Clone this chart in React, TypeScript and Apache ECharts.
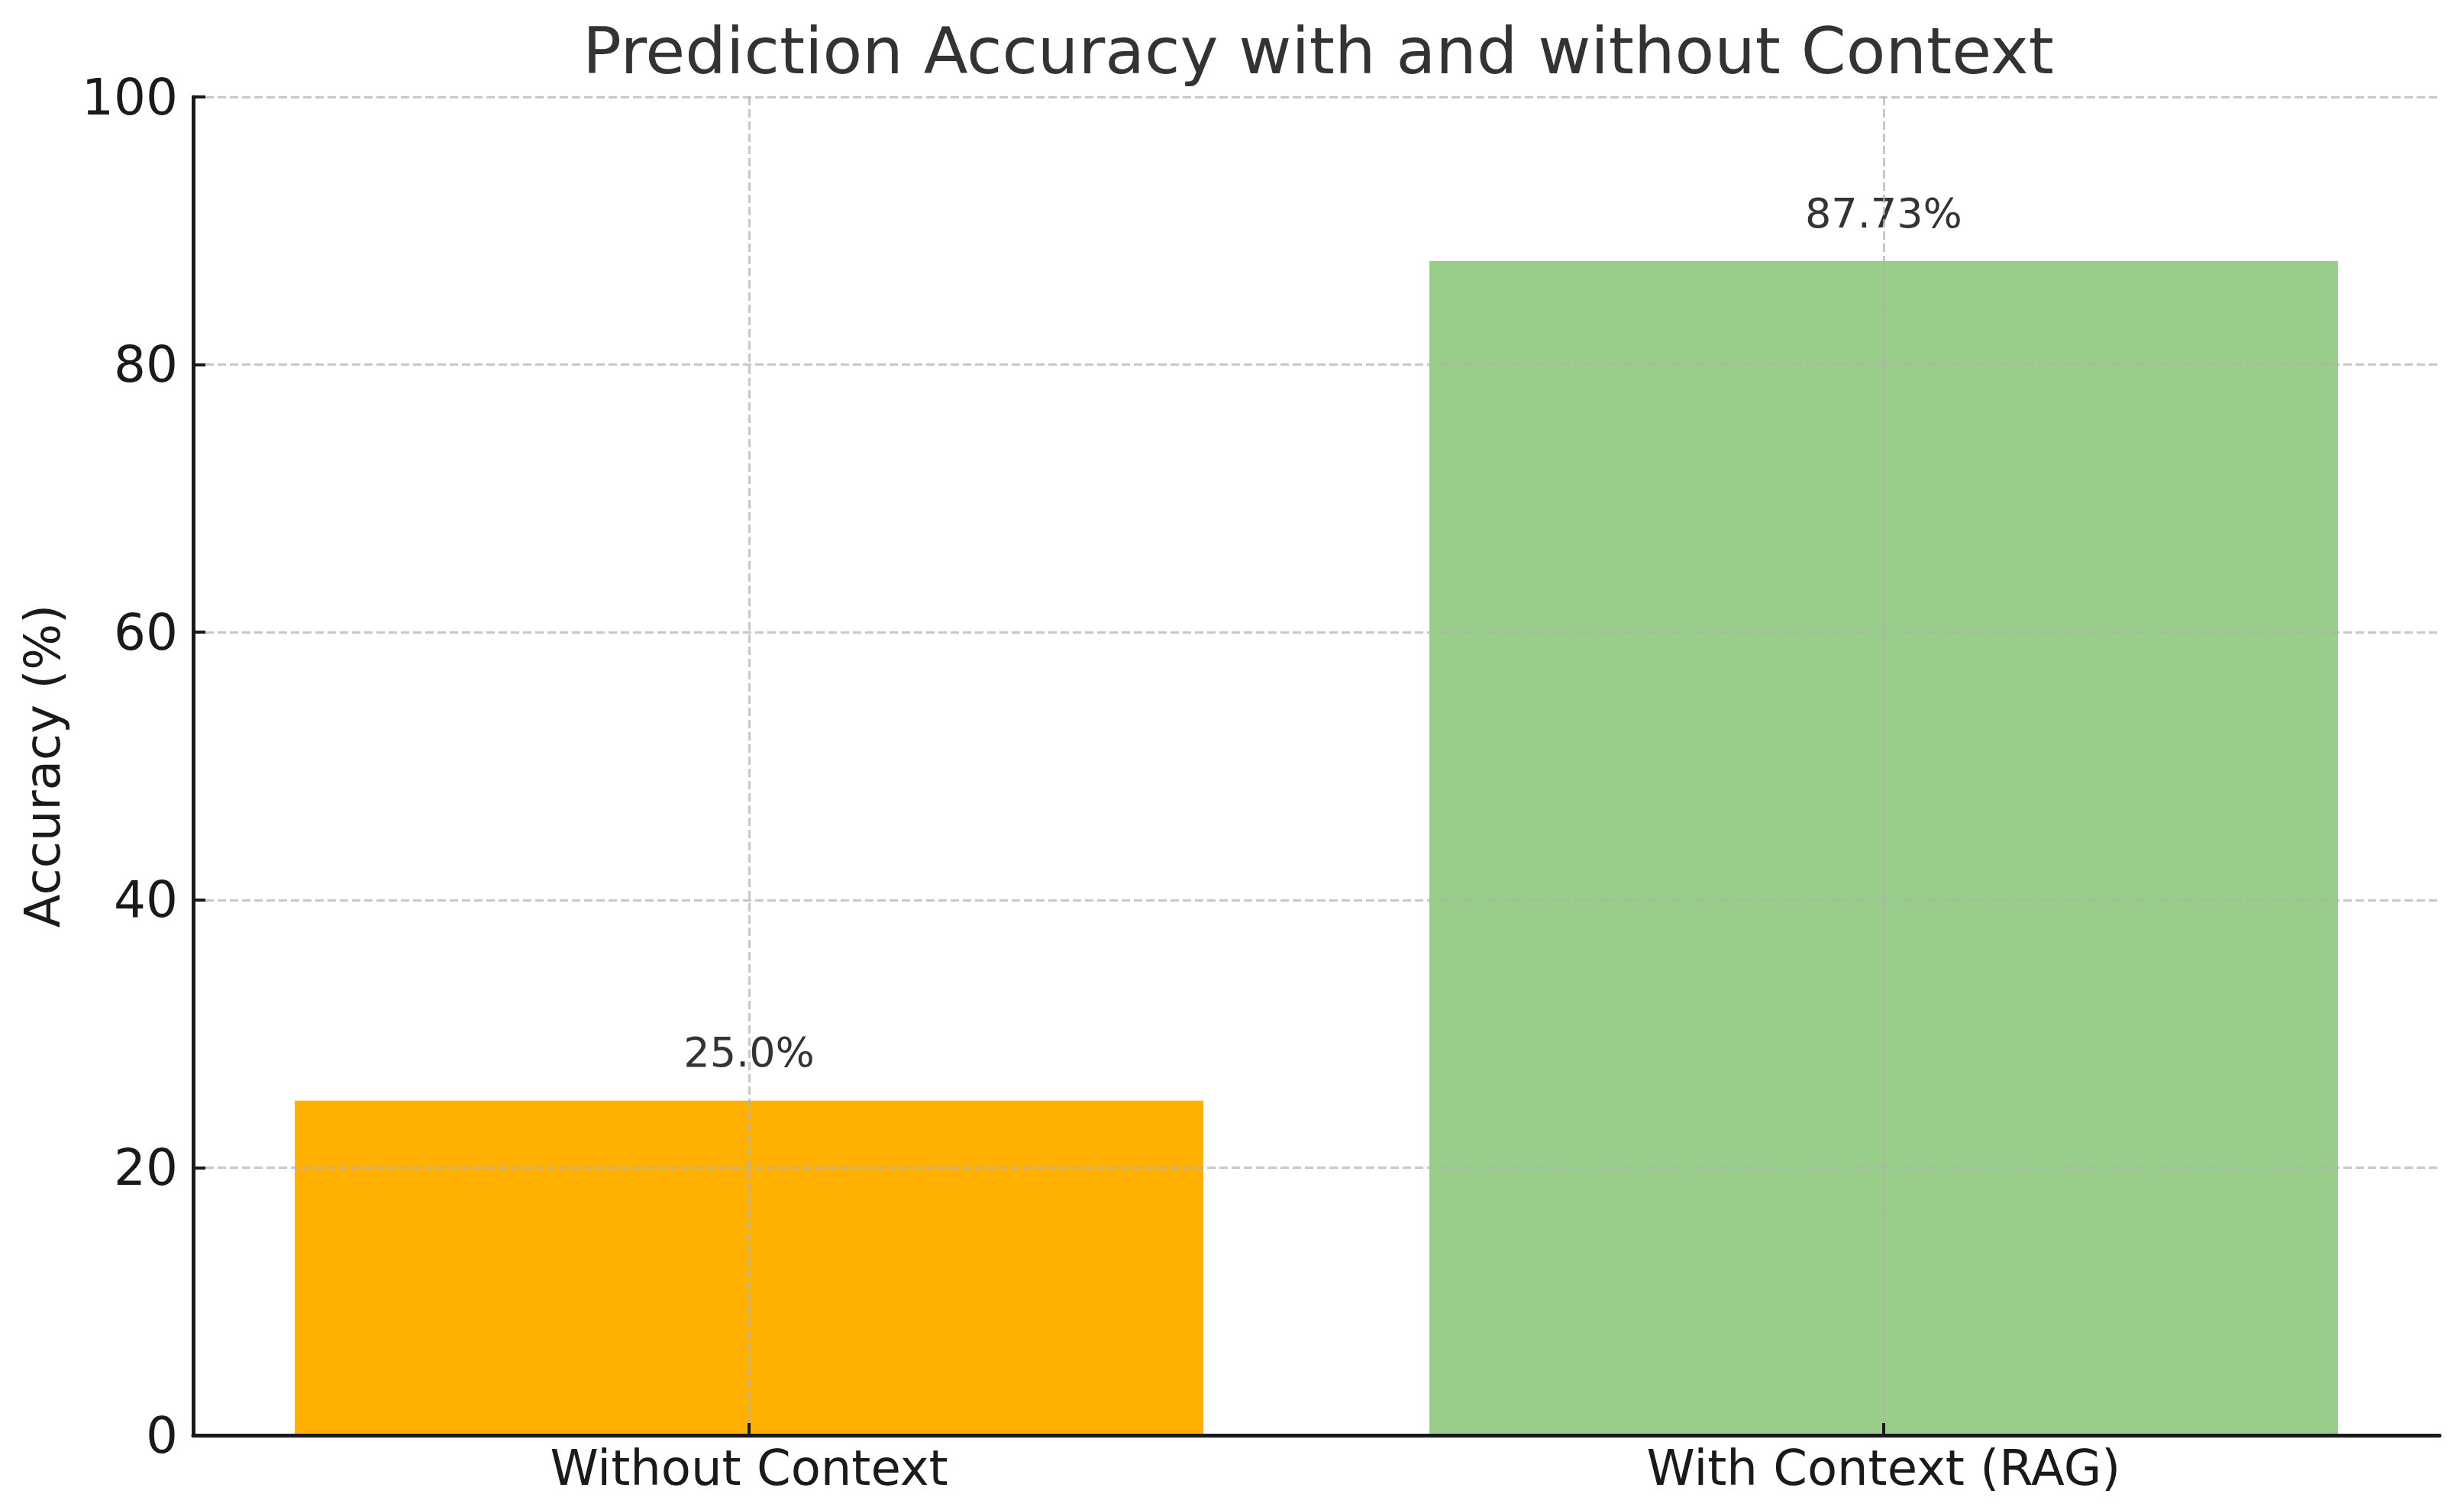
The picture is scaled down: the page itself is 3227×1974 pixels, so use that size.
import React, { useEffect, useRef } from "react";
import * as echarts from "echarts";

const categories = ["Without Context", "With Context (RAG)"];
const accuracy = [25.0, 87.73];
const valueLabels = ["25.0%", "87.73%"];
const barColors = ["#FFB000", "#98CE8A"];
const titleText = "Prediction Accuracy with and without Context";
const yAxisName = "Accuracy (%)";

export default function App() {
  const ref = useRef<HTMLDivElement>(null);
  useEffect(() => {
    const chart = echarts.init(ref.current!, null, { renderer: "svg" });
    const positions = categories.map((_, i) => i);
    const gridLine = {
      show: true,
      lineStyle: { color: "rgba(176,176,176,0.7)", width: 3, type: [11, 5] },
    };
    chart.setOption({
      animation: false,
      backgroundColor: "#ffffff",
      textStyle: { fontFamily: "DejaVu Sans" },
      title: {
        text: titleText,
        left: 763,
        top: 24,
        padding: 0,
        textStyle: { fontFamily: "DejaVu Sans", fontSize: 84.5, fontWeight: "normal", color: "#333333" },
      },
      grid: { left: 253, right: 32, top: 127, bottom: 94, containLabel: false, outerBoundsMode: "none" },
      xAxis: {
        type: "value",
        min: -0.49,
        max: 1.49,
        z: 5,
        axisLine: { show: true, onZero: false, lineStyle: { color: "#1a1a1a", width: 5 } },
        axisTick: { show: true, inside: true, length: 16, customValues: positions, lineStyle: { color: "#1a1a1a", width: 4 } },
        axisLabel: {
          show: true,
          customValues: positions,
          margin: 11,
          fontSize: 64,
          color: "#1a1a1a",
          fontFamily: "DejaVu Sans",
          formatter: (v: number) => categories[Math.round(v)] ?? "",
        },
        splitLine: gridLine,
      },
      yAxis: {
        type: "value",
        min: 0,
        max: 100,
        interval: 20,
        z: 5,
        name: yAxisName,
        nameLocation: "middle",
        nameGap: 165,
        nameTextStyle: { fontSize: 64, color: "#1a1a1a", fontFamily: "DejaVu Sans" },
        axisLine: { show: true, onZero: false, lineStyle: { color: "#1a1a1a", width: 5 } },
        axisTick: { show: true, inside: true, length: 16, lineStyle: { color: "#1a1a1a", width: 4 } },
        axisLabel: { show: true, margin: 20, fontSize: 66, color: "#1a1a1a", fontFamily: "DejaVu Sans" },
        splitLine: gridLine,
      },
      series: [
        {
          type: "bar",
          barWidth: 1190,
          z: 2,
          data: accuracy.map((v, i) => ({
            value: [positions[i], v],
            itemStyle: { color: barColors[i] },
            label: { formatter: valueLabels[i] },
          })),
          label: {
            show: true,
            position: "top",
            distance: 36,
            fontSize: 54,
            color: "#333333",
            fontFamily: "DejaVu Sans",
          },
        },
      ],
    });
    return () => chart.dispose();
  }, []);
  return (
    <div
      ref={ref}
      style={{ position: "fixed", left: 0, top: 0, width: 3227, height: 1974 }}
    />
  );
}
